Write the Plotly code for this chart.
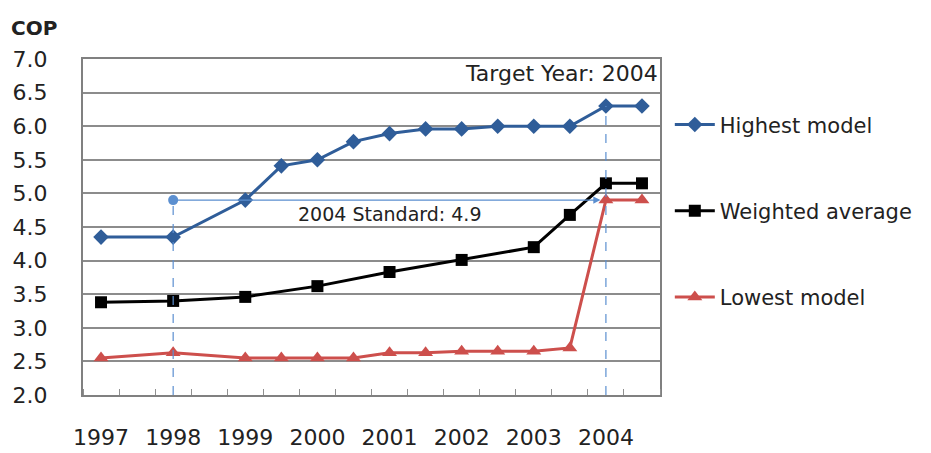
import plotly.graph_objects as go

# Half-year category slots (16 slots, labels every other slot)
slots = list(range(16))
year_labels = ["1997", "1998", "1999", "2000", "2001", "2002", "2003", "2004"]
year_slots = [0, 2, 4, 6, 8, 10, 12, 14]

# Series values per slot (None = no observation)
highest = [4.35, None, 4.35, None, 4.9, 5.41, 5.5, 5.77, 5.89, 5.96, 5.96, 6.0, 6.0, 6.0, 6.3, 6.3]
weighted = [3.38, None, 3.4, None, 3.46, None, 3.62, None, 3.83, None, 4.01, None, 4.2, 4.68, 5.15, 5.15]
lowest = [2.55, None, 2.63, None, 2.55, 2.55, 2.55, 2.55, 2.63, 2.63, 2.65, 2.65, 2.65, 2.7, 4.9, 4.9]

standard_value = 4.9
standard_start_slot = 2
target_slot = 14
target_value = 6.3

FONT = "DejaVu Sans"
BLUE = "#2f5d99"
RED = "#cd4f4c"
LIGHT = "#5b8fd0"
TXT = "#222"

fig = go.Figure()

fig.add_trace(go.Scatter(x=slots, y=highest, name="Highest model", mode="lines+markers",
                         connectgaps=True, legendgroup="a",
                         line=dict(color=BLUE, width=3),
                         marker=dict(symbol="diamond", size=12, color=BLUE)))
fig.add_trace(go.Scatter(x=slots, y=weighted, name="Weighted average", mode="lines+markers",
                         connectgaps=True, legendgroup="b",
                         line=dict(color="black", width=3),
                         marker=dict(symbol="square", size=12, color="black")))
fig.add_trace(go.Scatter(x=slots, y=lowest, name="Lowest model", mode="lines+markers",
                         connectgaps=True, legendgroup="c",
                         line=dict(color=RED, width=3),
                         marker=dict(symbol="triangle-up", size=13, color=RED)))

# Standard line with start dot
fig.add_trace(go.Scatter(x=[standard_start_slot], y=[standard_value], mode="markers",
                         showlegend=False, hoverinfo="skip",
                         marker=dict(symbol="circle", size=10, color=LIGHT)))
fig.add_annotation(x=target_slot - 0.15, y=standard_value, ax=standard_start_slot, ay=standard_value,
                   xref="x", yref="y", axref="x", ayref="y", text="", showarrow=True,
                   arrowhead=2, arrowsize=1.2, arrowwidth=1.2, arrowcolor=LIGHT)
fig.add_shape(type="line", x0=standard_start_slot, x1=standard_start_slot, y0=2.0, y1=standard_value,
              xref="x", yref="y", line=dict(color=LIGHT, width=1.2, dash="dash"))
fig.add_shape(type="line", x0=target_slot, x1=target_slot, y0=2.0, y1=target_value,
              xref="x", yref="y", line=dict(color=LIGHT, width=1.2, dash="dash"))

fig.add_annotation(x=8.0, y=standard_value, yshift=-14, xref="x", yref="y",
                   text="2004 Standard: 4.9", showarrow=False,
                   font=dict(family=FONT, size=19, color=TXT))
fig.add_annotation(x=15.5, y=6.78, xref="x", yref="y", xanchor="right",
                   text="Target Year: 2004", showarrow=False,
                   font=dict(family=FONT, size=22, color=TXT))
fig.add_annotation(x=0.0, y=1.0, xref="paper", yref="paper", xanchor="left", yanchor="bottom",
                   text="<b>COP</b>", showarrow=False, xshift=-74, yshift=17,
                   font=dict(family=FONT, size=20, color=TXT))

fig.update_layout(
    width=923, height=445,
    margin=dict(l=75, r=271, t=51, b=58),
    paper_bgcolor="white", plot_bgcolor="white",
    font=dict(family=FONT, size=21, color=TXT),
    legend=dict(x=1.017, y=0.865, xanchor="left", yanchor="top",
                font=dict(family=FONT, size=21, color=TXT),
                tracegroupgap=56, itemwidth=40, bgcolor="rgba(0,0,0,0)"),
    xaxis=dict(range=[-0.5, 15.5], tickmode="array", tickvals=year_slots, ticktext=year_labels,
               ticks="", showgrid=False, zeroline=False, automargin=False,
               showline=True, linecolor="#808080", linewidth=2, mirror=True,
               ticklabelstandoff=22,
               minor=dict(tickmode="array", tickvals=[s - 0.5 for s in slots] + [15.5],
                          ticks="inside", ticklen=6, tickcolor="#909090", showgrid=False),
               tickfont=dict(family=FONT, size=22, color=TXT)),
    yaxis=dict(range=[2.0, 7.0], dtick=0.5, tick0=2.0, tickformat=".1f",
               showgrid=True, gridcolor="#8c8c8c", gridwidth=1.5, zeroline=False,
               showline=True, linecolor="#808080", linewidth=2, mirror=True, automargin=False,
               ticks="", ticklabelstandoff=29,
               tickfont=dict(family=FONT, size=22, color=TXT)),
)

fig.write_html("out.html")
